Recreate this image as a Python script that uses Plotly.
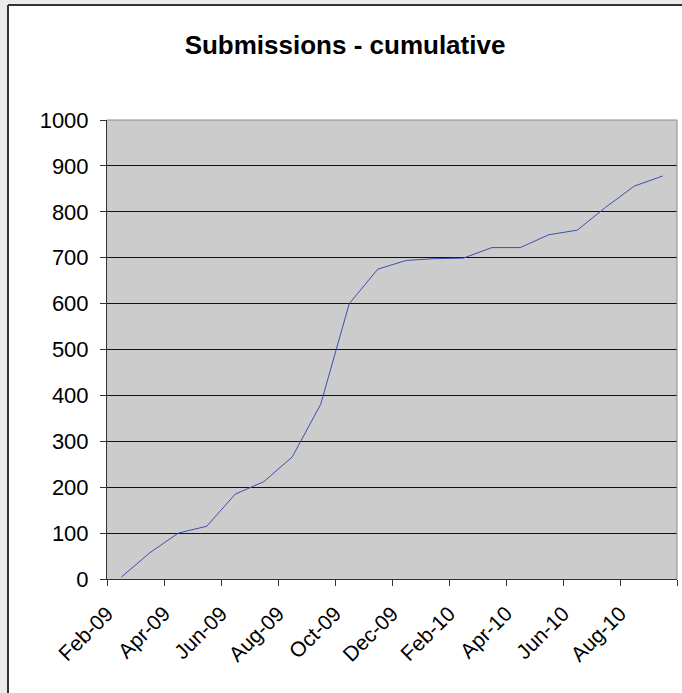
import plotly.graph_objects as go

months = ["Feb-09", "Mar-09", "Apr-09", "May-09", "Jun-09", "Jul-09", "Aug-09",
          "Sep-09", "Oct-09", "Nov-09", "Dec-09", "Jan-10", "Feb-10", "Mar-10",
          "Apr-10", "May-10", "Jun-10", "Jul-10", "Aug-10", "Sep-10"]
submissions = [4, 57, 100, 115, 185, 212, 266, 381, 600, 675, 694, 698, 699,
               722, 722, 750, 760, 810, 856, 878]
tick_labels = ["Feb-09", "Apr-09", "Jun-09", "Aug-09", "Oct-09", "Dec-09",
               "Feb-10", "Apr-10", "Jun-10", "Aug-10", ""]
y_ticks = [0, 100, 200, 300, 400, 500, 600, 700, 800, 900, 1000]

# month slots: each month is one unit wide, points centred in their slot
x_pos = [i + 0.5 for i in range(len(months))]
tick_pos = [2 * i for i in range(len(tick_labels))]

W, H = 682, 693
L, R, T, B = 107, 5, 120, 114
pw, ph = W - L - R, H - T - B

def px_x(p):
    return (p - L) / pw

def px_y(p):
    return (H - B - p) / ph

fig = go.Figure()
fig.add_trace(go.Scatter(
    x=x_pos, y=submissions, mode="lines",
    line=dict(color="#3f4fb0", width=1),
    text=months, hoverinfo="text+y", showlegend=False,
))

font = "Liberation Sans, Arial, sans-serif"
shapes = [
    # outer grey page strips
    dict(type="rect", xref="paper", yref="paper", x0=px_x(-5), x1=px_x(7),
         y0=px_y(H + 5), y1=px_y(-5), fillcolor="#ebebeb", line=dict(width=0)),
    dict(type="rect", xref="paper", yref="paper", x0=px_x(-5), x1=px_x(W + 5),
         y0=px_y(4), y1=px_y(-5), fillcolor="#ebebeb", line=dict(width=0)),
    # chart frame
    dict(type="line", xref="paper", yref="paper", x0=px_x(8), x1=px_x(8),
         y0=px_y(5), y1=px_y(H + 5), line=dict(color="#333333", width=2)),
    dict(type="line", xref="paper", yref="paper", x0=px_x(8), x1=px_x(W + 5),
         y0=px_y(5), y1=px_y(5), line=dict(color="#333333", width=2)),
    # plot area border (top/right)
    dict(type="line", xref="paper", yref="paper", x0=0, x1=1, y0=1, y1=1,
         line=dict(color="#8a8a8a", width=1)),
    dict(type="line", xref="paper", yref="paper", x0=1, x1=1, y0=0, y1=1,
         line=dict(color="#8a8a8a", width=1)),
]

fig.update_layout(
    width=W, height=H,
    margin=dict(l=L, r=R, t=T, b=B, pad=0),
    paper_bgcolor="white",
    plot_bgcolor="#cccccc",
    font=dict(family=font, size=22, color="black"),
    title=dict(text="<b>Submissions - cumulative</b>", x=345 / W,
               xanchor="center", y=1 - 45 / H, yanchor="middle",
               font=dict(family=font, size=26, color="black")),
    shapes=shapes,
    xaxis=dict(range=[0, 20], tickmode="array", tickvals=tick_pos,
               ticktext=tick_labels, tickangle=-45, ticks="outside",
               ticklen=6, tickcolor="#333333", showgrid=False, zeroline=False,
               showline=True, linecolor="#333333", linewidth=1,
               ticklabelstandoff=7,
               tickfont=dict(family=font, size=21)),
    yaxis=dict(range=[0, 1000], tickmode="array", tickvals=y_ticks,
               ticks="outside", ticklen=6, tickcolor="#333333",
               showgrid=True, gridcolor="#111111", gridwidth=1, zeroline=False,
               showline=True, linecolor="#333333", linewidth=1,
               ticklabelstandoff=7,
               tickfont=dict(family=font, size=22)),
)

fig.write_html("out.html")
